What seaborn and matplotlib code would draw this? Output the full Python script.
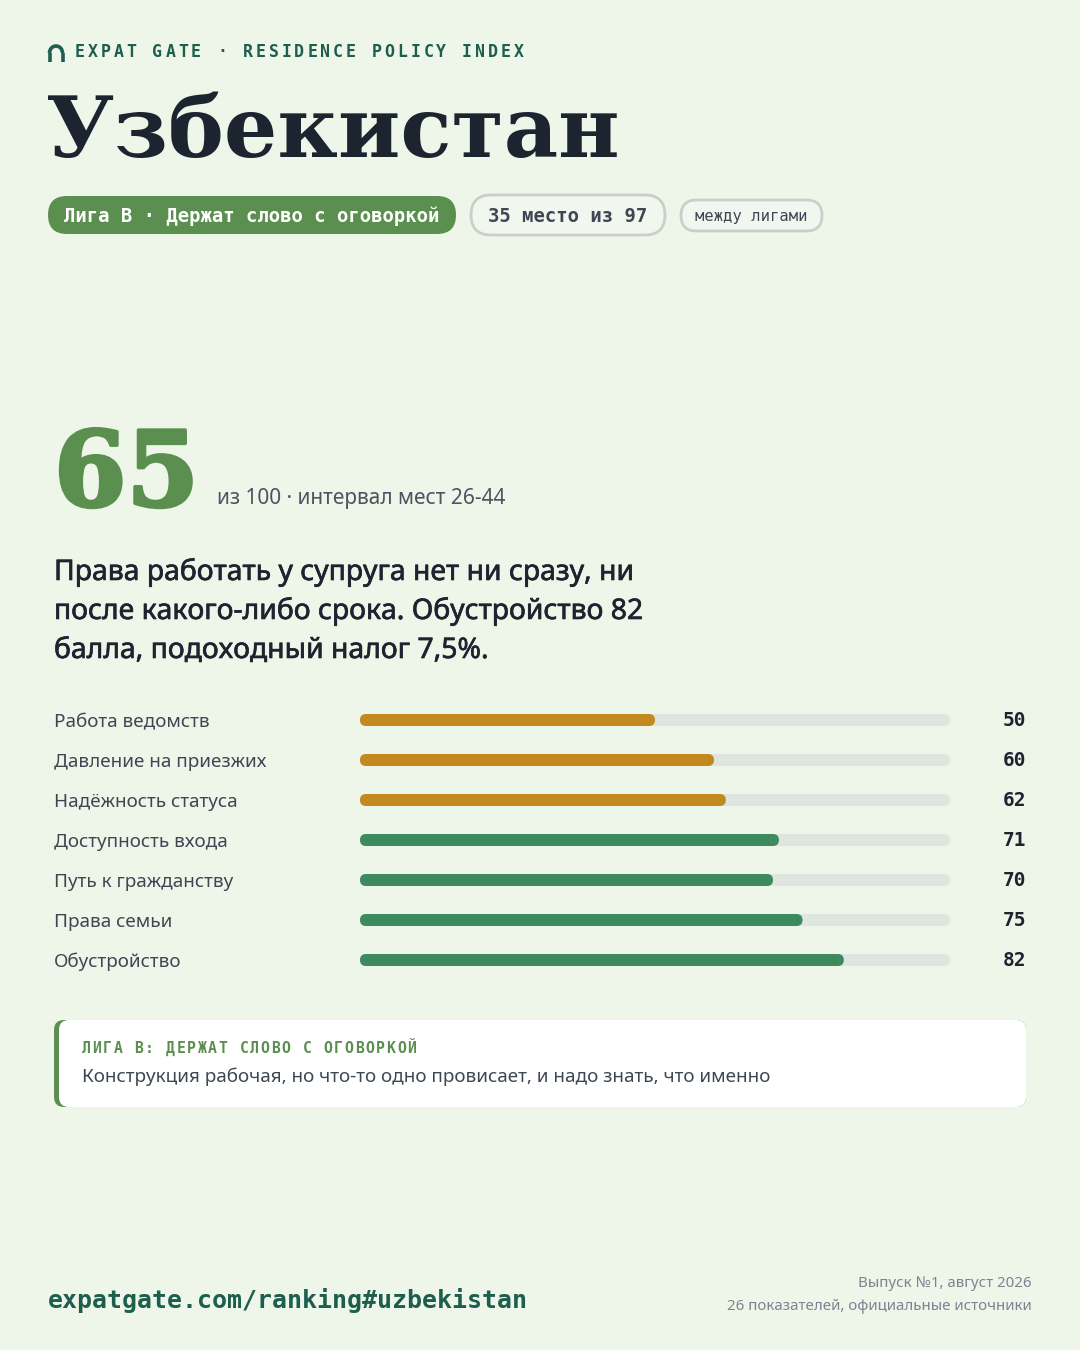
import matplotlib
matplotlib.use("Agg")
import matplotlib.pyplot as plt
import matplotlib.transforms as mtransforms
import matplotlib.patheffects as pe
from matplotlib.patches import FancyBboxPatch, Arc
import seaborn as sns
import pandas as pd

# ---------------- data ----------------
brand = "EXPAT GATE · RESIDENCE POLICY INDEX"
country = "Узбекистан"
league_pill = "Лига B · Держат слово с оговоркой"
rank_pill = "35 место из 97"
status_pill = "между лигами"
score = 65
score_sub = "из 100 · интервал мест 26-44"
summary_lines = [
    "Права работать у супруга нет ни сразу, ни",
    "после какого-либо срока. Обустройство 82",
    "балла, подоходный налог 7,5%.",
]
categories = [
    "Работа ведомств",
    "Давление на приезжих",
    "Надёжность статуса",
    "Доступность входа",
    "Путь к гражданству",
    "Права семьи",
    "Обустройство",
]
values = [50, 60, 62, 71, 70, 75, 82]
scale_max = 100
card_title = "ЛИГА B: ДЕРЖАТ СЛОВО С ОГОВОРКОЙ"
card_text = "Конструкция рабочая, но что-то одно провисает, и надо знать, что именно"
footer_url = "expatgate.com/ranking#uzbekistan"
footer_right = ["Выпуск №1, август 2026", "26 показателей, официальные источники"]

# ---------------- style ----------------
BG = "#eef5e9"
DARK = "#1c2430"
GRAY = "#3d4754"
MUTED = "#7b8591"
TEAL = "#1d5e4e"
LEAGUE_GREEN = "#5b8f4f"
BAR_GREEN = "#3d8a5e"
AMBER = "#c28a1e"
TRACK = "#dfe5df"

sns.set_theme(style="white")
plt.rcParams["font.family"] = ["Noto Sans", "DejaVu Sans"]
MONO = ["DejaVu Sans Mono"]
SERIF = ["DejaVu Serif"]

W, H = 1080, 1350
fig = plt.figure(figsize=(W / 100, H / 100), dpi=100)
fig.patch.set_facecolor(BG)

bg = fig.add_axes([0, 0, 1, 1])
bg.set_xlim(0, W)
bg.set_ylim(H, 0)
bg.axis("off")
bg.set_facecolor(BG)


def spaced(ax, x, y, s, advance, **kw):
    for i, ch in enumerate(s):
        ax.text(x + i * advance, y, ch, ha="left", va="baseline", **kw)


def pill(ax, x, y, w, h, fc, ec="none", lw=0):
    ax.add_patch(FancyBboxPatch((x, y), w, h,
                                boxstyle=f"round,pad=0,rounding_size={h/2}",
                                fc=fc, ec=ec, lw=lw))


# header icon (arch)
bg.add_patch(Arc((56, 53), 13, 14, theta1=180, theta2=360, color=TEAL, lw=2.6))
bg.plot([49.5, 49.5], [53, 62], color=TEAL, lw=2.6, solid_capstyle="butt")
bg.plot([62.5, 62.5], [53, 62], color=TEAL, lw=2.6, solid_capstyle="butt")
spaced(bg, 75, 57, brand, 12.9, family=MONO, fontsize=11.9,
       fontweight="bold", color=TEAL)

# title
bg.text(46, 157, country, family=SERIF, fontsize=60.5, fontweight="bold",
        color=DARK, ha="left", va="baseline")

# pills
pill(bg, 48, 196, 408, 38, LEAGUE_GREEN)
bg.text(252, 216, league_pill, family=MONO, fontsize=13.6, fontweight="bold",
        color="white", ha="center", va="center")
pill(bg, 471, 195, 194, 40, "#f1f6ee", ec="#c9d0c9", lw=2)
bg.text(568, 216, rank_pill, family=MONO, fontsize=13.6, fontweight="bold",
        color=GRAY, ha="center", va="center")
pill(bg, 681, 200, 141, 31, "#f1f6ee", ec="#c9d0c9", lw=2)
bg.text(751.5, 216, status_pill, family=MONO, fontsize=11.2,
        color=GRAY, ha="center", va="center")

# big score
bg.text(54, 506, str(score), family=SERIF, fontsize=75,
        fontweight="bold", color=LEAGUE_GREEN, ha="left", va="baseline",
        path_effects=[pe.withStroke(linewidth=2.5, foreground=LEAGUE_GREEN)])
bg.text(217, 504, score_sub, fontsize=15, color="#4a5561",
        ha="left", va="baseline")

# summary
for i, line in enumerate(summary_lines):
    bg.text(54, 580 + 39 * i, line, fontsize=20.4,
            color=DARK, ha="left", va="baseline",
            path_effects=[pe.withStroke(linewidth=0.45, foreground=DARK)])

# ---------------- bars (seaborn) ----------------
x0, x1 = 360, 950
row_h = 40
top = 700
n = len(categories)
ax = fig.add_axes([x0 / W, 1 - (top + n * row_h) / H, (x1 - x0) / W, n * row_h / H])
ax.patch.set_alpha(0)

df = pd.DataFrame({"cat": categories, "val": values, "track": [scale_max] * n})
colors = [AMBER if v < score else BAR_GREEN for v in values]
sns.barplot(data=df, x="track", y="cat", orient="h", color=TRACK, width=0.3,
            errorbar=None, ax=ax, saturation=1)
sns.barplot(data=df, x="val", y="cat", hue="cat", palette=colors, orient="h",
            width=0.3, errorbar=None, ax=ax, legend=False, saturation=1)
ax.set_xlim(0, scale_max)
ax.set_ylim(n - 0.5, -0.5)

# round bar ends
px_x = scale_max / (x1 - x0)
px_y = 1 / row_h
r = 6 * px_x
aspect = px_y / px_x
for k, p in enumerate(list(ax.patches)):
    bx, by = p.get_xy()
    bw, bh = p.get_width(), p.get_height()
    fc = p.get_facecolor()
    p.remove()
    ax.add_patch(FancyBboxPatch((bx, by), bw, bh,
                                boxstyle=f"round,pad=0,rounding_size={r}",
                                mutation_aspect=aspect, fc=fc, ec="none",
                                zorder=1 if k < n else 2))

ax.set_xlabel("")
ax.set_ylabel("")
ax.set_xticks([])
ax.set_yticks([])
for s in ax.spines.values():
    s.set_visible(False)

trans = mtransforms.blended_transform_factory(ax.transAxes, ax.transData)
lab_x = (54 - x0) / (x1 - x0)
val_x = (1026 - x0) / (x1 - x0)
base_off = 7 * px_y
for i, (c, v) in enumerate(zip(categories, values)):
    ax.text(lab_x, i + base_off, c, transform=trans, fontsize=13.6, color=GRAY,
            ha="left", va="baseline", clip_on=False)
    ax.text(val_x, i + 0.15, str(v), transform=trans, family=MONO, fontsize=14,
            fontweight="bold", color=DARK, ha="right", va="baseline", clip_on=False)

# ---------------- card ----------------
bg.add_patch(FancyBboxPatch((54, 1020), 972, 87,
                            boxstyle="round,pad=0,rounding_size=10",
                            fc=LEAGUE_GREEN, ec="none"))
bg.add_patch(FancyBboxPatch((59, 1020), 967, 87,
                            boxstyle="round,pad=0,rounding_size=10",
                            fc="white", ec="none"))
spaced(bg, 82, 1053, card_title, 10.5, family=MONO, fontsize=10.6,
       fontweight="bold", color=LEAGUE_GREEN)
bg.text(82, 1082, card_text, fontsize=13.6, color=GRAY, ha="left", va="baseline")

# ---------------- footer ----------------
bg.text(48, 1308, footer_url, family=MONO, fontsize=17.9, fontweight="bold",
        color=TEAL, ha="left", va="baseline")
bg.text(1032, 1287, footer_right[0], fontsize=10.85, color=MUTED,
        ha="right", va="baseline")
bg.text(1032, 1310, footer_right[1], fontsize=10.85, color=MUTED,
        ha="right", va="baseline")

fig.savefig("out.png", dpi=100, facecolor=BG)
